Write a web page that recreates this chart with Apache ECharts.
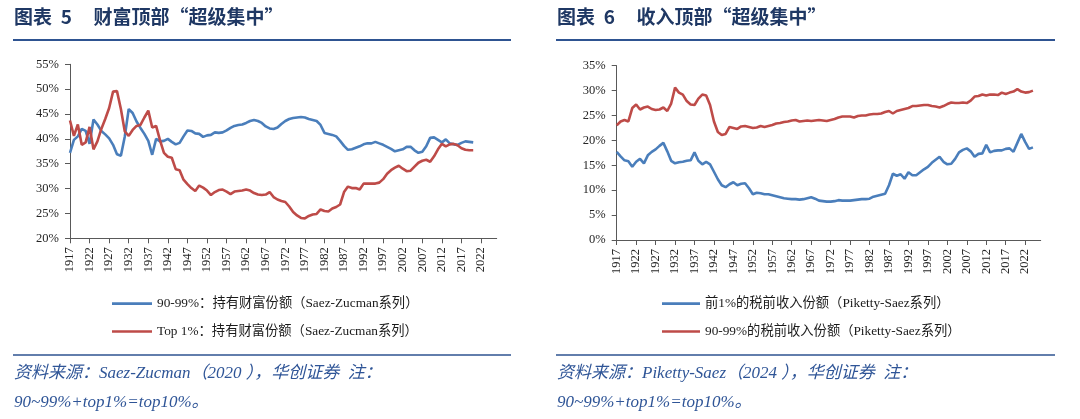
<!DOCTYPE html>
<html>
<head>
<meta charset="utf-8">
<script src="https://cdn.jsdelivr.net/npm/echarts@6/dist/echarts.min.js"></script>
<style>
  html, body { margin: 0; padding: 0; background: #fff; }
  #chart { width: 1080px; height: 419px; }
</style>
</head>
<body>
<div id="chart"></div>
<script>
// year axis runs a few years past the data, as in the source
var firstYear = 1917, lastYear = 2026;
var years = [];
for (var y = firstYear; y <= lastYear; y++) years.push(String(y));

// wealth shares, 1917-2020 (Saez-Zucman)
var wealth9099 = [
  37.2, 39.8, 40.5, 42.0, 41.6, 39.0, 43.9, 42.9, 41.6, 40.9,
  40.1, 38.8, 36.9, 36.6, 40.5, 46.0, 45.2, 43.5, 42.2, 41.0,
  39.6, 36.8, 40.0, 39.5, 39.6, 40.0, 39.4, 38.9, 39.2, 40.5,
  41.7, 41.6, 41.1, 41.0, 40.4, 40.7, 40.8, 41.3, 41.2, 41.3,
  41.7, 42.2, 42.6, 42.8, 42.9, 43.2, 43.6, 43.8, 43.6, 43.2,
  42.5, 42.1, 42.0, 42.3, 43.0, 43.6, 44.0, 44.2, 44.3, 44.4,
  44.3, 44.0, 43.8, 43.6, 42.8, 41.2, 41.0, 40.8, 40.5, 39.6,
  38.6, 37.8, 37.9, 38.2, 38.5, 38.9, 39.1, 39.1, 39.4, 39.1,
  38.8, 38.4, 38.0, 37.5, 37.7, 37.9, 38.4, 38.4, 37.7, 37.2,
  37.4, 38.5, 40.2, 40.3, 39.8, 39.3, 39.9, 39.1, 38.9, 38.8,
  39.2, 39.5, 39.4, 39.3
];
var wealthTop1 = [
  43.7, 40.6, 42.9, 38.8, 39.3, 42.4, 37.9, 39.5, 42.0, 44.0,
  46.2, 49.5, 49.6, 46.0, 41.5, 40.6, 41.8, 42.6, 42.8, 44.3,
  45.7, 42.3, 42.6, 39.7, 37.2, 36.4, 36.2, 33.9, 33.7, 31.8,
  30.9, 30.1, 29.5, 30.6, 30.2, 29.6, 28.7, 29.3, 29.7, 29.8,
  29.4, 28.9, 29.4, 29.5, 29.6, 29.8, 29.6, 29.1, 28.8, 28.7,
  28.8, 29.3, 28.3, 27.8, 27.5, 27.3, 26.4, 25.3, 24.6, 24.1,
  24.0, 24.5, 24.8, 24.9, 25.8, 25.5, 25.4, 26.0, 26.3, 26.8,
  29.3, 30.4, 30.1, 30.1, 29.8, 31.0, 31.0, 31.0, 31.0, 31.2,
  31.9, 33.0, 33.7, 34.2, 34.6, 34.0, 33.5, 33.6, 34.4, 35.2,
  35.6, 35.8, 35.4, 36.5, 37.9, 39.0, 38.5, 38.9, 39.0, 38.7,
  38.1, 37.8, 37.7, 37.7
];

// pre-tax income shares, 1917-2024 (Piketty-Saez)
var incomeTop1 = [
  17.7, 16.8, 16.0, 15.8, 14.7, 15.7, 16.3, 15.4, 17.0, 17.7,
  18.2, 18.9, 19.5, 17.8, 15.9, 15.4, 15.6, 15.7, 15.9, 16.0,
  17.6, 15.9, 15.2, 15.7, 15.2, 13.7, 12.2, 11.0, 10.6, 11.2,
  11.6, 11.0, 11.3, 11.4, 10.4, 9.2, 9.5, 9.4, 9.2, 9.2,
  9.0, 8.8, 8.6, 8.4, 8.3, 8.2, 8.2, 8.1, 8.2, 8.4,
  8.6, 8.3, 7.9, 7.8, 7.7, 7.7, 7.8, 8.0, 7.9, 7.9,
  7.9, 8.0, 8.1, 8.2, 8.2, 8.3, 8.7, 8.9, 9.1, 9.3,
  11.0, 13.3, 12.9, 13.2, 12.3, 13.6, 13.0, 13.0, 13.6, 14.2,
  14.7, 15.5, 16.1, 16.7, 15.7, 15.2, 15.3, 16.3, 17.6, 18.1,
  18.4, 17.8, 16.7, 17.3, 17.4, 19.1, 17.6, 17.9, 18.0, 18.0,
  18.3, 18.4, 17.7, 19.5, 21.3, 19.7, 18.3, 18.6
];
var income9099 = [
  23.0, 23.8, 24.1, 23.8, 26.5, 27.2, 26.2, 26.6, 26.8, 26.3,
  26.1, 26.2, 26.6, 25.9, 27.4, 30.6, 29.6, 29.2, 27.9, 27.2,
  27.1, 28.4, 29.2, 29.0, 27.1, 23.8, 21.7, 21.1, 21.3, 22.7,
  22.5, 22.3, 22.8, 22.9, 22.7, 22.5, 22.6, 22.9, 22.7, 22.9,
  23.1, 23.4, 23.5, 23.7, 23.8, 24.0, 24.1, 23.8, 23.9, 24.0,
  23.9, 24.0, 24.1, 24.0, 23.9, 24.1, 24.3, 24.6, 24.8, 24.8,
  24.8, 24.6, 24.9, 25.0, 25.0, 25.2, 25.3, 25.3, 25.4, 25.7,
  25.9, 25.4, 25.9, 26.1, 26.3, 26.5, 26.9, 26.9, 27.0, 27.1,
  27.1, 26.9, 26.8, 26.6, 26.9, 27.3, 27.6, 27.5, 27.5, 27.6,
  27.5, 28.0, 28.8, 28.9, 29.2, 29.0, 29.2, 29.2, 29.1, 29.6,
  29.3, 29.6, 29.8, 30.3, 29.8, 29.6, 29.7, 30.0
];

var names = {
  w9099: '90-99%：持有财富份额（Saez-Zucman系列）',
  wTop1: 'Top 1%：持有财富份额（Saez-Zucman系列）',
  iTop1: '前1%的税前收入份额（Piketty-Saez系列）',
  i9099: '90-99%的税前收入份额（Piketty-Saez系列）'
};

var BLUE = '#4A7EBB', RED = '#BE4B48', NAVY = '#1F3864', RULE = '#2E5391';
var SERIF = "'Liberation Serif', 'Noto Sans CJK SC', serif";

function xAxisFor(gi) {
  return {
    type: 'category', gridIndex: gi, data: years, boundaryGap: false,
    axisLine: { lineStyle: { color: '#595959', width: 1 } },
    axisTick: { interval: 4, length: 5, lineStyle: { color: '#595959' } },
    axisLabel: { interval: 4, rotate: 90, margin: 9, fontSize: 12.5, fontFamily: SERIF, color: '#262626' },
    splitLine: { show: false }
  };
}
function yAxisFor(gi, min, max) {
  return {
    type: 'value', gridIndex: gi, min: min, max: max, interval: 5,
    axisLine: { show: true, lineStyle: { color: '#595959', width: 1 } },
    axisTick: { show: true, length: 5, lineStyle: { color: '#595959' } },
    axisLabel: { formatter: '{value}%', margin: 11, fontSize: 12.5, fontFamily: SERIF, color: '#262626' },
    splitLine: { show: false }
  };
}
function lineSeries(name, gi, data, color) {
  return {
    name: name, type: 'line', xAxisIndex: gi, yAxisIndex: gi, data: data,
    symbol: 'none', smooth: false, animation: false,
    lineStyle: { color: color, width: 2.6 }, itemStyle: { color: color }
  };
}

var titleStyle = { fontFamily: 'Noto Sans CJK SC', fontSize: 19, fontWeight: 'bold', color: NAVY };
var noteStyle = { fontFamily: SERIF, fontSize: 17, fontStyle: 'italic', fontWeight: 'normal', lineHeight: 29, color: '#2F5597' };
var legendText = { fontFamily: SERIF, fontSize: 13.3, color: '#1a1a1a' };

var chart = echarts.init(document.getElementById('chart'));
chart.setOption({
  animation: false,
  title: [
    { text: '图表  5     财富顶部“超级集中”', left: 14, top: 7, padding: 0, textStyle: titleStyle },
    { text: '图表  6     收入顶部“超级集中”', left: 557, top: 7, padding: 0, textStyle: titleStyle },
    { text: '资料来源：Saez-Zucman（2020 ），华创证券  注：\n90~99%+top1%=top10%。', left: 14, top: 359, padding: 0, textStyle: noteStyle },
    { text: '资料来源：Piketty-Saez（2024 ），华创证券  注：\n90~99%+top1%=top10%。', left: 557, top: 359, padding: 0, textStyle: noteStyle }
  ],
  graphic: [
    { type: 'line', shape: { x1: 13, y1: 40, x2: 511, y2: 40 }, style: { stroke: RULE, lineWidth: 2 } },
    { type: 'line', shape: { x1: 556, y1: 40, x2: 1055, y2: 40 }, style: { stroke: RULE, lineWidth: 2 } },
    { type: 'line', shape: { x1: 13, y1: 355, x2: 511, y2: 355 }, style: { stroke: RULE, lineWidth: 1.5 } },
    { type: 'line', shape: { x1: 556, y1: 355, x2: 1055, y2: 355 }, style: { stroke: RULE, lineWidth: 1.5 } }
  ],
  legend: [
    { orient: 'vertical', left: 107, top: 292, icon: 'rect', itemWidth: 40, itemHeight: 2.6, itemGap: 14.5,
      data: [names.w9099, names.wTop1], textStyle: legendText },
    { orient: 'vertical', left: 657, top: 292, icon: 'rect', itemWidth: 38, itemHeight: 2.6, itemGap: 14.5,
      data: [names.iTop1, names.i9099], textStyle: legendText }
  ],
  grid: [
    { left: 70, top: 64.3, width: 426.7, height: 174 },
    { left: 616.7, top: 65.7, width: 424, height: 174.3 }
  ],
  xAxis: [xAxisFor(0), xAxisFor(1)],
  yAxis: [yAxisFor(0, 20, 55), yAxisFor(1, 0, 35)],
  series: [
    lineSeries(names.w9099, 0, wealth9099, BLUE),
    lineSeries(names.wTop1, 0, wealthTop1, RED),
    lineSeries(names.iTop1, 1, incomeTop1, BLUE),
    lineSeries(names.i9099, 1, income9099, RED)
  ]
});
</script>
</body>
</html>
